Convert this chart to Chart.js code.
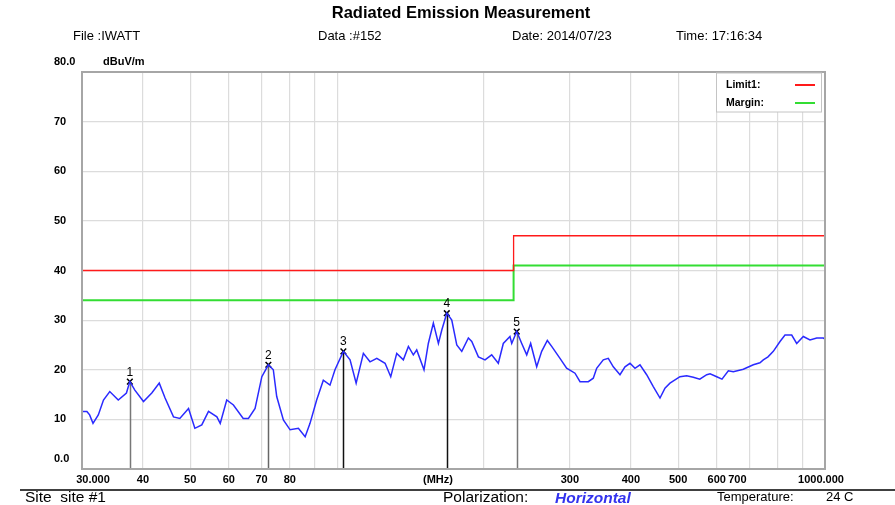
<!DOCTYPE html>
<html>
<head>
<meta charset="utf-8">
<script src="https://cdn.jsdelivr.net/npm/chart.js@4.4.1/dist/chart.umd.min.js"></script>
<style>
  html, body { margin: 0; padding: 0; background: #fff; }
  canvas { display: block; }
</style>
</head>
<body>
<canvas id="emiChart" width="895" height="505"></canvas>
<script>
// measured trace, MHz / dBuV/m
const traceFreqs = [30.0, 30.7, 31.1, 31.6, 32.4, 33.2, 34.2, 35.6, 37.0, 37.6, 38.5, 40.1, 41.7, 43.2, 44.4, 46.2, 47.6, 49.6,
    51.1, 52.8, 54.5, 56.7, 57.6, 59.4, 61.3, 64.2, 65.8, 67.9, 70.1, 72.3, 74.0, 75.2, 77.6, 80.1, 83.3, 86.0, 88.0,
    90.8, 93.7, 96.7, 99.0, 103.0, 106.3, 109.4, 113.2, 116.8, 120.6, 125.4, 128.8, 132.5, 136.7, 140.0, 143.3, 145.6,
    150.7, 153.8, 157.5, 161.3, 163.9, 167.8, 171.8, 175.9, 180.1, 185.8, 188.8, 194.8, 201.0, 207.4, 214.0, 219.1,
    226.1, 228.0, 233.4, 239.0, 244.7, 249.3, 256.5, 262.6, 269.7, 275.3, 286.3, 295.4, 307.3, 314.7, 327.2, 335.0,
    340.4, 351.2, 359.6, 368.2, 380.0, 389.1, 398.4, 407.9, 417.6, 431.0, 444.7, 459.0, 469.9, 481.1, 504.4, 520.6,
    537.1, 553.8, 572.3, 581.4, 599.9, 615.0, 633.7, 648.8, 680.2, 713.0, 735.6, 747.4, 764.1, 783.5, 808.7, 828.0,
    854.6, 875.0, 902.7, 931.7, 961.7, 992.1, 1000];
const traceLevels = [11.6, 11.6, 10.9, 9.2, 10.9, 13.9, 15.6, 13.9, 15.3, 17.6, 15.9, 13.6, 15.3, 17.3, 14.3, 10.5, 10.2, 12.2,
    8.2, 8.9, 11.6, 10.5, 9.2, 13.9, 12.9, 10.2, 10.2, 12.2, 18.6, 21.0, 20.0, 14.6, 9.9, 7.9, 8.2, 6.5, 9.2,
    13.9, 17.9, 16.9, 20.0, 23.7, 22.0, 17.3, 23.3, 21.6, 22.3, 21.3, 18.6, 23.3, 22.0, 24.7, 23.0, 24.0,
    20.0, 25.3, 29.4, 25.3, 28.0, 31.4, 30.0, 25.0, 23.7, 26.4, 25.7, 22.6, 22.0, 23.0, 21.3, 25.3,
    26.7, 25.3, 27.7, 25.3, 23.0, 25.3, 20.6, 23.7, 25.9, 24.7, 22.3, 20.3, 19.3, 17.6, 17.6, 18.3,
    20.3, 22.0, 22.3, 20.6, 19.0, 20.6, 21.3, 20.3, 21.0, 19.0, 16.6, 14.3, 16.3, 17.3, 18.6, 18.8,
    18.5, 18.1, 19.0, 19.2, 18.6, 18.1, 19.8, 19.6, 20.1, 21.0, 21.4, 22.0, 22.6, 23.7, 25.7, 27.0,
    27.0, 25.3, 26.7, 26.0, 26.4, 26.4, 26.2];

const limitFreqs = [30, 230, 230, 1000];
const limitLevels = [40, 40, 47, 47];
const marginLevels = [34, 34, 41, 41];

const markerNames = ['1', '2', '3', '4', '5'];
const markerFreqs = [37.6, 72.3, 103.0, 167.8, 233.4];
const markerLevels = [17.6, 21.0, 23.7, 31.4, 27.7];

const xGridValues = [30, 40, 50, 60, 70, 80, 90, 100, 200, 300, 400, 500, 600, 700, 800, 900, 1000];
const xTickValues = [30, 40, 50, 60, 70, 80, 300, 400, 500, 600, 700, 1000];
const xTickLabels = ['30.000', '40', '50', '60', '70', '80', '300', '400', '500', '600', '700', '1000.000'];
const yTickValues = [0, 10, 20, 30, 40, 50, 60, 70, 80];
const yTickLabels = ['0.0', '10', '20', '30', '40', '50', '60', '70', '80.0'];

const toPoints = (xs, ys) => xs.map((x, i) => ({ x: x, y: ys[i] }));

const markerLineColors = ['#777', '#666', '#111', '#111', '#777'];

const reportPlugin = {
    id: 'report',
    beforeDatasetsDraw(chart) {
        const ctx = chart.ctx;
        const xs = chart.scales.x, ys = chart.scales.y;
        const bottom = chart.chartArea.bottom;
        ctx.save();
        markerFreqs.forEach((f, i) => {
            const px = Math.round(xs.getPixelForValue(f)) + 0.5;
            ctx.strokeStyle = markerLineColors[i];
            ctx.lineWidth = 1.5;
            ctx.beginPath();
            ctx.moveTo(px, ys.getPixelForValue(markerLevels[i]));
            ctx.lineTo(px, bottom);
            ctx.stroke();
        });
        ctx.restore();
    },
    afterDraw(chart) {
        const ctx = chart.ctx;
        const area = chart.chartArea;
        const xs = chart.scales.x, ys = chart.scales.y;
        const font = 'Arial, "Liberation Sans", sans-serif';
        ctx.save();

        // plot frame
        ctx.strokeStyle = '#a6a6a6';
        ctx.lineWidth = 2;
        ctx.strokeRect(area.left, area.top, area.right - area.left, area.bottom - area.top);

        // legend box
        ctx.fillStyle = '#fff';
        ctx.fillRect(716, area.top + 1, 105, 39);
        ctx.strokeStyle = '#c4c4c4';
        ctx.lineWidth = 1;
        ctx.strokeRect(716.5, area.top + 1, 105, 39);
        ctx.fillStyle = '#000';
        ctx.font = 'bold 10.5px ' + font;
        ctx.textAlign = 'left';
        ctx.textBaseline = 'middle';
        ctx.fillText('Limit1:', 726, 85);
        ctx.fillText('Margin:', 726, 103);
        ctx.lineWidth = 2;
        ctx.strokeStyle = '#ff1a1a';
        ctx.beginPath(); ctx.moveTo(795, 85); ctx.lineTo(815, 85); ctx.stroke();
        ctx.strokeStyle = '#33dd33';
        ctx.beginPath(); ctx.moveTo(795, 103); ctx.lineTo(815, 103); ctx.stroke();

        // marker numbers
        ctx.font = '12px ' + font;
        ctx.textAlign = 'center';
        ctx.textBaseline = 'alphabetic';
        markerNames.forEach((name, i) => {
            const px = xs.getPixelForValue(markerFreqs[i]);
            const py = ys.getPixelForValue(markerLevels[i]);
            ctx.fillText(name, px, py - 6);
        });

        // y labels
        ctx.font = 'bold 11px ' + font;
        ctx.textAlign = 'left';
        ctx.textBaseline = 'middle';
        yTickValues.forEach((v, i) => {
            let py = ys.getPixelForValue(v);
            if (v === 0 || v === 80) py -= 10;
            ctx.fillText(yTickLabels[i], 54, py);
        });
        ctx.fillText('dBuV/m', 103, ys.getPixelForValue(80) - 10);

        // x labels
        ctx.textAlign = 'center';
        const nudge = { '30.000': 11, '700': -12, '1000.000': -4 };
        xTickValues.forEach((v, i) => {
            const label = xTickLabels[i];
            ctx.fillText(label, xs.getPixelForValue(v) + (nudge[label] || 0), area.bottom + 11);
        });
        ctx.fillText('(MHz)', 438, area.bottom + 11);

        // header
        ctx.font = 'bold 16.5px ' + font;
        ctx.fillText('Radiated Emission Measurement', 461, 13);
        ctx.font = '13px ' + font;
        ctx.textAlign = 'left';
        ctx.fillText('File :IWATT', 73, 36);
        ctx.fillText('Data :#152', 318, 36);
        ctx.fillText('Date: 2014/07/23', 512, 36);
        ctx.fillText('Time: 17:16:34', 676, 36);

        // footer
        ctx.strokeStyle = '#000';
        ctx.lineWidth = 1.5;
        ctx.beginPath(); ctx.moveTo(20, 490); ctx.lineTo(895, 490); ctx.stroke();
        ctx.font = '15.5px ' + font;
        ctx.fillText('Site  site #1', 25, 498);
        ctx.fillText('Polarization:', 443, 498);
        ctx.fillStyle = '#3333ee';
        ctx.font = 'italic bold 15.5px ' + font;
        ctx.fillText('Horizontal', 555, 499);
        ctx.fillStyle = '#000';
        ctx.font = '13px ' + font;
        ctx.fillText('Temperature:', 717, 497);
        ctx.fillText('24 C', 826, 497);
        ctx.restore();
    }
};

new Chart(document.getElementById('emiChart'), {
    type: 'line',
    data: {
        datasets: [
            {
                label: 'Limit1',
                data: toPoints(limitFreqs, limitLevels),
                borderColor: '#ff1a1a',
                borderWidth: 1.3,
                pointRadius: 0
            },
            {
                label: 'Margin',
                data: toPoints(limitFreqs, marginLevels),
                borderColor: '#33dd33',
                borderWidth: 2,
                pointRadius: 0
            },
            {
                label: 'Trace',
                data: toPoints(traceFreqs, traceLevels),
                borderColor: '#2a2aff',
                borderWidth: 1.5,
                pointRadius: 0
            },
            {
                label: 'Markers',
                data: toPoints(markerFreqs, markerLevels),
                showLine: false,
                pointStyle: 'crossRot',
                pointRadius: 4,
                borderColor: '#000',
                borderWidth: 1.5
            }
        ]
    },
    options: {
        responsive: false,
        animation: false,
        layout: { padding: { left: 82, right: 70, top: 72, bottom: 36 } },
        plugins: { legend: { display: false }, tooltip: { enabled: false } },
        scales: {
            x: {
                type: 'logarithmic',
                min: 30,
                max: 1000,
                afterBuildTicks: scale => { scale.ticks = xGridValues.map(v => ({ value: v })); },
                ticks: { display: false },
                border: { display: false },
                grid: { color: '#dcdcdc', lineWidth: 1.2, drawTicks: false }
            },
            y: {
                min: 0,
                max: 80,
                afterBuildTicks: scale => { scale.ticks = yTickValues.map(v => ({ value: v })); },
                ticks: { display: false },
                border: { display: false },
                grid: { color: '#dcdcdc', lineWidth: 1.2, drawTicks: false }
            }
        }
    },
    plugins: [reportPlugin]
});
</script>
</body>
</html>
